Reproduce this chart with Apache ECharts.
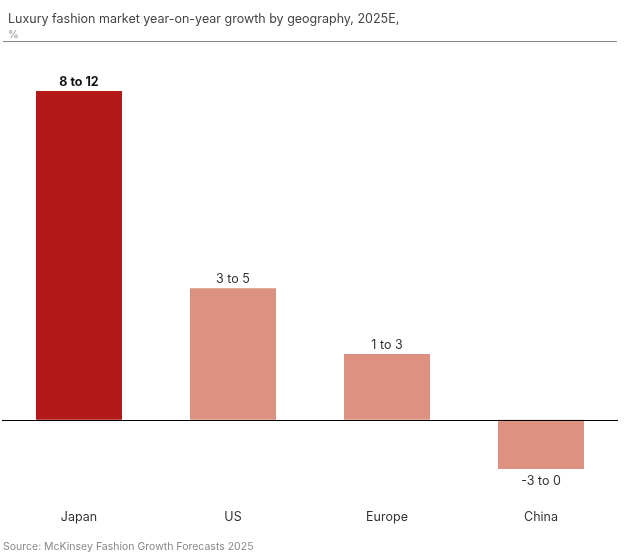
<!DOCTYPE html>
<html>
<head>
<meta charset="utf-8">
<style>
  html, body { margin: 0; padding: 0; background: #fff; }
  #chart { width: 643px; height: 559px; }
</style>
<script src="https://cdn.jsdelivr.net/npm/echarts@6/dist/echarts.min.js"></script>
</head>
<body>
<div id="chart"></div>
<script>
// data (bar height = midpoint of the range)
var regions = ['Japan', 'US', 'Europe', 'China'];
var growthMid = [10, 4, 2, -1.5];
var rangeLabels = ['8 to 12', '3 to 5', '1 to 3', '-3 to 0'];

var myChart = echarts.init(document.getElementById('chart'));

var barData = growthMid.map(function (v, i) {
    return {
        value: v,
        itemStyle: { color: i === 0 ? '#B31919' : '#DD9180' },
        label: {
            fontWeight: i === 0 ? 'bold' : 'normal',
            color: i === 0 ? '#111' : '#333',
            position: v < 0 ? 'bottom' : 'top',
            distance: v < 0 ? 6 : 2
        }
    };
});

var option = {
    backgroundColor: '#fff',
    animation: false,
    textStyle: { fontFamily: 'Inter, "Noto Sans", sans-serif' },
    title: {
        text: 'Luxury fashion market year-on-year growth by geography, 2025E,\n{pct|%}',
        left: 3,
        top: 7,
        textStyle: {
            fontSize: 12.5,
            fontWeight: 'normal',
            color: '#444',
            lineHeight: 15,
            rich: { pct: { fontSize: 11, color: '#999', lineHeight: 15 } }
        }
    },
    graphic: [
        {
            type: 'line',
            shape: { x1: 3, y1: 41.5, x2: 617, y2: 41.5 },
            style: { stroke: '#888', lineWidth: 1 }
        },
        {
            type: 'text',
            left: 3,
            top: 541,
            style: {
                text: 'Source: McKinsey Fashion Growth Forecasts 2025',
                fontSize: 10.5,
                fill: '#888',
                fontFamily: 'Inter, "Noto Sans", sans-serif'
            }
        }
    ],
    grid: { left: 2, right: 25, top: 58, bottom: 57 },
    xAxis: {
        type: 'category',
        data: regions,
        axisLine: { show: false, onZero: false },
        axisTick: { show: false },
        axisLabel: { color: '#333', fontSize: 12.5, margin: 9 }
    },
    yAxis: {
        type: 'value',
        min: -2.5,
        max: 11,
        show: false,
        splitLine: { show: false }
    },
    series: [
        {
            type: 'bar',
            barWidth: 86,
            data: barData,
            label: {
                show: true,
                fontSize: 12.5,
                formatter: function (p) { return rangeLabels[p.dataIndex]; }
            },
            markLine: {
                silent: true,
                symbol: 'none',
                label: { show: false },
                lineStyle: { color: '#000', width: 1.2, type: 'solid' },
                data: [{ yAxis: 0 }]
            }
        }
    ]
};

myChart.setOption(option);
</script>
</body>
</html>
